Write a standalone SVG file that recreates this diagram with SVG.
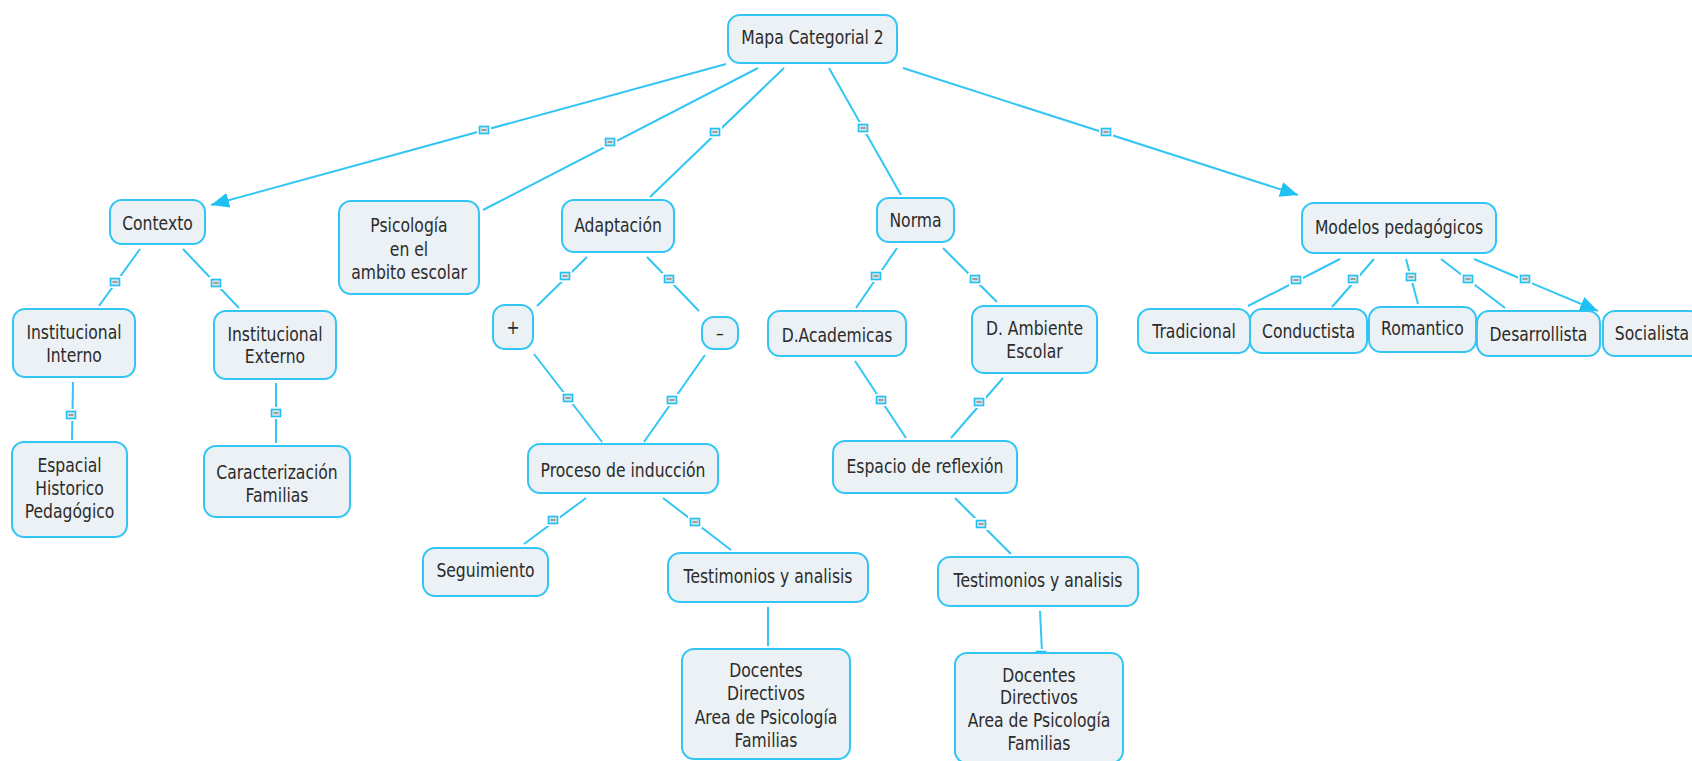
<svg xmlns="http://www.w3.org/2000/svg" xmlns:xlink="http://www.w3.org/1999/xlink" width="1692" height="761" viewBox="0 0 1692 761">
<style>
.box{fill:#ebf1f4;stroke:#33c6f4;stroke-width:2}
.ln{stroke:#33c6f4;stroke-width:2;fill:none}
.t{font-family:"DejaVu Sans",Verdana,"Liberation Sans",sans-serif;font-size:20px;fill:#2b2b2b;text-anchor:middle}
</style>
<defs>
<marker id="ah" markerUnits="userSpaceOnUse" markerWidth="20" markerHeight="16" refX="18" refY="7.5" orient="auto">
<path d="M0,0 L18,7.5 L0,15 z" fill="#1fc0f2"/>
</marker>
<g id="mk">
<rect x="-7" y="-6" width="14" height="12" fill="#fff"/>
<rect x="-4.5" y="-3.5" width="9" height="7" fill="#d6e4ea" stroke="#1fc0f2" stroke-width="1.6"/>
<line x1="-2.5" y1="0" x2="2.5" y2="0" stroke="#7a7a7a" stroke-width="1.3"/>
</g>
</defs>
<rect width="1692" height="761" fill="#fff"/>
<g id="connectors">
<line class="ln" x1="726" y1="64" x2="211" y2="205" marker-end="url(#ah)"/>
<line class="ln" x1="758" y1="68" x2="483" y2="210"/>
<line class="ln" x1="784" y1="68" x2="650" y2="197"/>
<line class="ln" x1="829" y1="68" x2="901" y2="195"/>
<line class="ln" x1="903" y1="68" x2="1298" y2="195" marker-end="url(#ah)"/>
<line class="ln" x1="140" y1="249" x2="99" y2="306"/>
<line class="ln" x1="183" y1="249" x2="239" y2="308"/>
<line class="ln" x1="73" y1="382" x2="72" y2="440"/>
<line class="ln" x1="276" y1="383" x2="276" y2="443"/>
<line class="ln" x1="587" y1="257" x2="537" y2="306"/>
<line class="ln" x1="647" y1="257" x2="699" y2="311"/>
<line class="ln" x1="534" y1="354" x2="602" y2="442"/>
<line class="ln" x1="705" y1="355" x2="644" y2="442"/>
<line class="ln" x1="586" y1="498" x2="524" y2="544"/>
<line class="ln" x1="663" y1="498" x2="731" y2="550"/>
<line class="ln" x1="768" y1="607" x2="768" y2="646"/>
<line class="ln" x1="897" y1="248" x2="856" y2="308"/>
<line class="ln" x1="943" y1="248" x2="997" y2="302"/>
<line class="ln" x1="855" y1="361" x2="906" y2="438"/>
<line class="ln" x1="1003" y1="378" x2="951" y2="438"/>
<line class="ln" x1="955" y1="498" x2="1011" y2="554"/>
<line class="ln" x1="1040" y1="611" x2="1042" y2="652"/>
<line class="ln" x1="1340" y1="259" x2="1248" y2="306"/>
<line class="ln" x1="1374" y1="259" x2="1332" y2="307"/>
<line class="ln" x1="1406" y1="259" x2="1418" y2="304"/>
<line class="ln" x1="1441" y1="259" x2="1505" y2="308"/>
<line class="ln" x1="1474" y1="259" x2="1598" y2="311" marker-end="url(#ah)"/>
<use xlink:href="#mk" x="484" y="130"/>
<use xlink:href="#mk" x="610" y="142"/>
<use xlink:href="#mk" x="715" y="132"/>
<use xlink:href="#mk" x="863" y="128"/>
<use xlink:href="#mk" x="1106" y="132"/>
<use xlink:href="#mk" x="115" y="282"/>
<use xlink:href="#mk" x="216" y="283"/>
<use xlink:href="#mk" x="71" y="415"/>
<use xlink:href="#mk" x="276" y="413"/>
<use xlink:href="#mk" x="565" y="276"/>
<use xlink:href="#mk" x="669" y="279"/>
<use xlink:href="#mk" x="568" y="398"/>
<use xlink:href="#mk" x="672" y="400"/>
<use xlink:href="#mk" x="553" y="520"/>
<use xlink:href="#mk" x="695" y="522"/>
<use xlink:href="#mk" x="876" y="276"/>
<use xlink:href="#mk" x="975" y="279"/>
<use xlink:href="#mk" x="881" y="400"/>
<use xlink:href="#mk" x="979" y="402"/>
<use xlink:href="#mk" x="981" y="524"/>
<use xlink:href="#mk" x="1041" y="655"/>
<use xlink:href="#mk" x="1296" y="280"/>
<use xlink:href="#mk" x="1353" y="279"/>
<use xlink:href="#mk" x="1411" y="277"/>
<use xlink:href="#mk" x="1468" y="279"/>
<use xlink:href="#mk" x="1525" y="279"/>
</g>
<g id="n-root"><rect class="box" x="728" y="15" width="169" height="48" rx="12"/><text class="t" transform="translate(812.5,0) scale(0.78,1)"><tspan x="0" y="44">Mapa Categorial 2</tspan></text></g>
<g id="n-contexto"><rect class="box" x="110" y="200" width="95" height="44" rx="12"/><text class="t" transform="translate(157.5,0) scale(0.78,1)"><tspan x="0" y="230">Contexto</tspan></text></g>
<g id="n-psicologia"><rect class="box" x="339" y="201" width="140" height="93" rx="12"/><text class="t" transform="translate(409,0) scale(0.78,1)"><tspan x="0" y="232">Psicología</tspan><tspan x="0" y="256">en el</tspan><tspan x="0" y="279">ambito escolar</tspan></text></g>
<g id="n-adaptacion"><rect class="box" x="562" y="200" width="112" height="52" rx="12"/><text class="t" transform="translate(618,0) scale(0.78,1)"><tspan x="0" y="232">Adaptación</tspan></text></g>
<g id="n-norma"><rect class="box" x="877" y="198" width="77" height="44" rx="12"/><text class="t" transform="translate(915.5,0) scale(0.78,1)"><tspan x="0" y="227">Norma</tspan></text></g>
<g id="n-modelos"><rect class="box" x="1302" y="203" width="194" height="50" rx="12"/><text class="t" transform="translate(1399,0) scale(0.78,1)"><tspan x="0" y="234">Modelos pedagógicos</tspan></text></g>
<g id="n-inst-interno"><rect class="box" x="13" y="309" width="122" height="68" rx="12"/><text class="t" transform="translate(74,0) scale(0.78,1)"><tspan x="0" y="339">Institucional</tspan><tspan x="0" y="362">Interno</tspan></text></g>
<g id="n-inst-externo"><rect class="box" x="214" y="311" width="122" height="68" rx="12"/><text class="t" transform="translate(275,0) scale(0.78,1)"><tspan x="0" y="341">Institucional</tspan><tspan x="0" y="363">Externo</tspan></text></g>
<g id="n-espacial"><rect class="box" x="12" y="442" width="115" height="95" rx="12"/><text class="t" transform="translate(69.5,0) scale(0.78,1)"><tspan x="0" y="472">Espacial</tspan><tspan x="0" y="495">Historico</tspan><tspan x="0" y="518">Pedagógico</tspan></text></g>
<g id="n-caracterizacion"><rect class="box" x="204" y="446" width="146" height="71" rx="12"/><text class="t" transform="translate(277,0) scale(0.78,1)"><tspan x="0" y="479">Caracterización</tspan><tspan x="0" y="502">Familias</tspan></text></g>
<g id="n-mas"><rect class="box" x="493" y="305" width="40" height="44" rx="12"/><text class="t" transform="translate(513,0) scale(0.78,1)"><tspan x="0" y="334">+</tspan></text></g>
<g id="n-menos"><rect class="box" x="702" y="317" width="36" height="32" rx="12"/><text class="t" transform="translate(720,0) scale(0.78,1)"><tspan x="0" y="340">–</tspan></text></g>
<g id="n-proceso"><rect class="box" x="528" y="444" width="190" height="49" rx="12"/><text class="t" transform="translate(623,0) scale(0.78,1)"><tspan x="0" y="477">Proceso de inducción</tspan></text></g>
<g id="n-seguimiento"><rect class="box" x="423" y="548" width="125" height="48" rx="12"/><text class="t" transform="translate(485.5,0) scale(0.78,1)"><tspan x="0" y="577">Seguimiento</tspan></text></g>
<g id="n-testimonios1"><rect class="box" x="668" y="553" width="200" height="49" rx="12"/><text class="t" transform="translate(768,0) scale(0.78,1)"><tspan x="0" y="583">Testimonios y analisis</tspan></text></g>
<g id="n-docentes1"><rect class="box" x="682" y="649" width="168" height="110" rx="12"/><text class="t" transform="translate(766,0) scale(0.78,1)"><tspan x="0" y="677">Docentes</tspan><tspan x="0" y="700">Directivos</tspan><tspan x="0" y="724">Area de Psicología</tspan><tspan x="0" y="747">Familias</tspan></text></g>
<g id="n-dacademicas"><rect class="box" x="768" y="311" width="138" height="45" rx="12"/><text class="t" transform="translate(837,0) scale(0.78,1)"><tspan x="0" y="342">D.Academicas</tspan></text></g>
<g id="n-dambiente"><rect class="box" x="972" y="306" width="125" height="67" rx="12"/><text class="t" transform="translate(1034.5,0) scale(0.78,1)"><tspan x="0" y="335">D. Ambiente</tspan><tspan x="0" y="358">Escolar</tspan></text></g>
<g id="n-espacio"><rect class="box" x="833" y="441" width="184" height="52" rx="12"/><text class="t" transform="translate(925,0) scale(0.78,1)"><tspan x="0" y="473">Espacio de reflexión</tspan></text></g>
<g id="n-testimonios2"><rect class="box" x="938" y="557" width="200" height="49" rx="12"/><text class="t" transform="translate(1038,0) scale(0.78,1)"><tspan x="0" y="587">Testimonios y analisis</tspan></text></g>
<g id="n-docentes2"><rect class="box" x="955" y="653" width="168" height="110" rx="12"/><text class="t" transform="translate(1039,0) scale(0.78,1)"><tspan x="0" y="682">Docentes</tspan><tspan x="0" y="704">Directivos</tspan><tspan x="0" y="727">Area de Psicología</tspan><tspan x="0" y="750">Familias</tspan></text></g>
<g id="n-tradicional"><rect class="box" x="1138" y="309" width="112" height="44" rx="12"/><text class="t" transform="translate(1194,0) scale(0.78,1)"><tspan x="0" y="338">Tradicional</tspan></text></g>
<g id="n-conductista"><rect class="box" x="1250" y="309" width="117" height="44" rx="12"/><text class="t" transform="translate(1308.5,0) scale(0.78,1)"><tspan x="0" y="338">Conductista</tspan></text></g>
<g id="n-romantico"><rect class="box" x="1369" y="307" width="107" height="45" rx="12"/><text class="t" transform="translate(1422.5,0) scale(0.78,1)"><tspan x="0" y="335">Romantico</tspan></text></g>
<g id="n-desarrollista"><rect class="box" x="1477" y="311" width="123" height="45" rx="12"/><text class="t" transform="translate(1538.5,0) scale(0.78,1)"><tspan x="0" y="341">Desarrollista</tspan></text></g>
<g id="n-socialista"><rect class="box" x="1603" y="311" width="99" height="45" rx="12"/><text class="t" transform="translate(1652,0) scale(0.78,1)"><tspan x="0" y="340">Socialista</tspan></text></g>
</svg>
